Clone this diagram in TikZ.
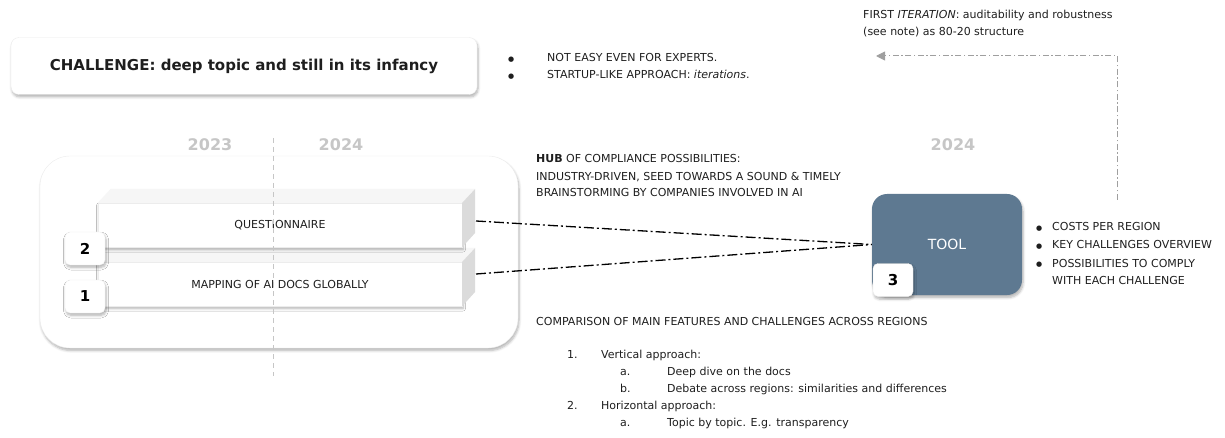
\documentclass[tikz,border=0pt]{standalone}
\usepackage{fontspec}
\setmainfont{DejaVu Sans}
\usetikzlibrary{shadows.blur,arrows.meta}
\definecolor{toolblue}{RGB}{94,121,145}
\definecolor{txtc}{RGB}{30,30,30}
\newcommand{\blt}{\raisebox{0.5pt}{\fontsize{7}{7}\selectfont ●}}
\begin{document}
\begin{tikzpicture}[x=1pt,y=-1pt,
  txt/.style={font=\fontsize{11}{13}\selectfont, inner sep=0pt, anchor=base west, text=txtc},
  softshadow/.style={blur shadow={shadow blur steps=6, shadow xshift=1pt, shadow yshift=-2.5pt, shadow opacity=30, shadow blur radius=2.5pt}},
  barbox/.style={draw=gray!15, fill=white, minimum width=364pt, minimum height=44pt, inner sep=0pt, font=\fontsize{11}{13}\selectfont, text=txtc, softshadow},
  badge/.style={draw=gray!15, fill=white, rounded corners=5pt, minimum width=40pt, minimum height=33pt, inner sep=0pt, font=\fontsize{15}{15}\selectfont\bfseries, softshadow},
  year/.style={font=\fontsize{16}{16}\selectfont\bfseries, text=gray!45, inner sep=0pt},
  hub/.style={draw=black, line width=1.3pt, dash pattern=on 10pt off 3pt on 2pt off 3pt},
  iter/.style={draw=gray!75, line width=1pt, dash pattern=on 6pt off 2.5pt on 1.5pt off 2.5pt, -{Triangle[length=9pt,width=9pt]}}
]
\useasboundingbox (0,0) rectangle (1225,438);

% challenge box
\node[draw=gray!15, fill=white, rounded corners=8pt, minimum width=466pt, minimum height=57pt, softshadow,
  font=\fontsize{15}{17}\selectfont\bfseries, text=txtc] (chal) at (244,66) {CHALLENGE: deep topic and still in its infancy};

\node[txt] (b1) at (508,62) {\makebox[39pt][l]{\blt}NOT EASY EVEN FOR EXPERTS.};
\node[txt] (b2) at (508,79) {\makebox[39pt][l]{\blt}STARTUP-LIKE APPROACH: \textit{iterations}.};

% first iteration
\node[txt] (it1) at (863,19) {FIRST \textit{ITERATION}: auditability and robustness};
\node[txt] (it2) at (863,36) {(see note) as 80-20 structure};

% container
\node[draw=gray!15, fill=white, rounded corners=30pt, minimum width=478pt, minimum height=192pt, softshadow] (cont) at (279,252) {};

% years
\node[year] (y23) at (210,145) {2023};
\node[year] (y24a) at (341,145) {2024};
\node[year] (y24b) at (953,145) {2024};

% mapping bar
\node[barbox] (map) at (280,284) {MAPPING OF AI DOCS GLOBALLY};
\fill[gray!7] (map.north west) -- ++(13,-14) -- ++(364,0) -- (map.north east) -- cycle;
\fill[gray!28] (map.north east) -- ++(13,-14) -- ++(0,44) -- (map.south east) -- cycle;
\coordinate (mapside) at (476,274);

% questionnaire bar
\node[barbox] (quest) at (280,225) {QUESTIONNAIRE};
\fill[gray!7] (quest.north west) -- ++(13,-14) -- ++(364,0) -- (quest.north east) -- cycle;
\fill[gray!28] (quest.north east) -- ++(13,-14) -- ++(0,44) -- (quest.south east) -- cycle;
\coordinate (questside) at (476,221);

% badges
\node[badge] (n2) at (85,248.5) {2};
\node[badge] (n1) at (85,296.5) {1};

% hub text
\node[txt] (h1) at (536,163) {\textbf{HUB} OF COMPLIANCE POSSIBILITIES:};
\node[txt] (h2) at (536,181) {INDUSTRY-DRIVEN, SEED TOWARDS A SOUND \& TIMELY};
\node[txt] (h3) at (536,197) {BRAINSTORMING BY COMPANIES INVOLVED IN AI};

% tool
\node[fill=toolblue, rounded corners=15pt, minimum width=150pt, minimum height=101pt, softshadow,
  font=\fontsize{14}{16}\selectfont, text=white] (tool) at (947,244.5) {TOOL};
\node[badge] (n3) at (893,280) {3};

% connectors
\draw[hub] (questside) -- (tool.west);
\draw[hub] (mapside) -- (tool.west);

% tool bullets
\node[txt] (t1) at (1036,231) {\makebox[16pt][l]{\blt}COSTS PER REGION};
\node[txt] (t2) at (1036,249) {\makebox[16pt][l]{\blt}KEY CHALLENGES OVERVIEW};
\node[txt] (t3) at (1036,267) {\makebox[16pt][l]{\blt}POSSIBILITIES TO COMPLY};
\node[txt] (t4) at (1052,284) {WITH EACH CHALLENGE};

% iteration arrow
\coordinate (itstart) at (1117,200);
\coordinate (itcorner) at (1117,56);
\coordinate (itend) at (876,56);
\draw[iter] (itstart) -- (itcorner) -- (itend);

% comparison list
\node[txt] (c0) at (536,325) {COMPARISON OF MAIN FEATURES AND CHALLENGES ACROSS REGIONS};
\node[txt] (c1) at (567,358) {\makebox[34pt][l]{1.}Vertical approach:};
\node[txt] (c1a) at (620,375) {\makebox[47pt][l]{a.}Deep dive on the docs};
\node[txt] (c1b) at (620,392) {\makebox[47pt][l]{b.}Debate across regions: similarities and differences};
\node[txt] (c2) at (567,409) {\makebox[34pt][l]{2.}Horizontal approach:};
\node[txt] (c2a) at (620,426) {\makebox[47pt][l]{a.}Topic by topic. E.g. transparency};

% dashed year divider
\draw[gray!45, line width=0.8pt, dash pattern=on 5pt off 4pt] (273,138) coordinate (divtop) -- (273,376) coordinate (divbot);
\end{tikzpicture}
\end{document}
